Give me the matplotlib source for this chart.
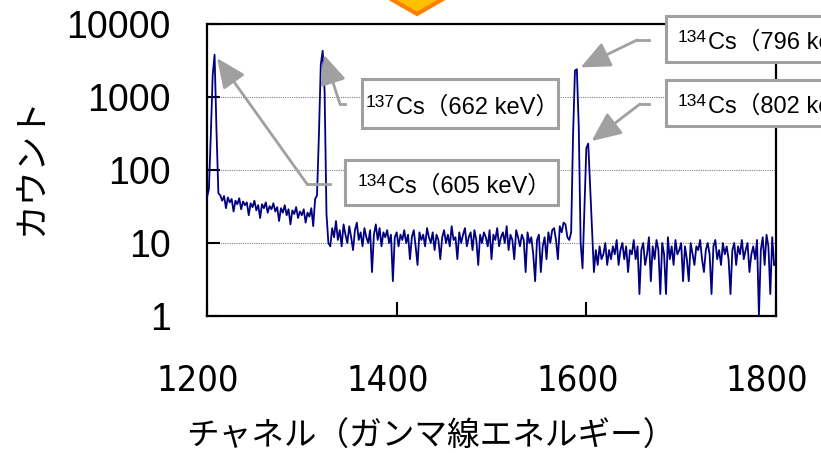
import numpy as np
import matplotlib.pyplot as plt
from matplotlib import font_manager
from matplotlib.patches import Rectangle, Polygon
from matplotlib.lines import Line2D
from matplotlib.ticker import FixedLocator, FixedFormatter, NullLocator
import matplotlib.transforms as mtransforms

W, H = 821, 453

# canal (paso de 2 canales) y cuentas
channels = np.arange(1200, 1800, 2)
counts = [
    42, 55, 300, 2000, 3800, 350, 48,
    45, 38, 44, 30, 42, 36, 40, 27, 38, 34, 41, 29, 37, 33,
    36, 24, 35, 31, 38, 28, 33, 22, 34, 30, 36, 26, 32, 29, 35,
    27, 31, 20, 30, 26, 33, 24, 29, 18, 28, 25, 31, 22, 27, 24,
    29, 19, 26, 23, 30, 17, 40, 45,
    300, 2800, 4300, 1200, 25, 10,
    9, 16, 12, 20, 11, 15, 9, 18, 13, 10,
    17, 12, 8, 15, 19, 11, 14, 9, 16, 12,
    10, 15, 4, 13, 18, 11, 16, 9, 14, 12,
    15, 10, 13, 3, 12, 14, 9, 13, 11, 15,
    10, 13, 6, 12, 15, 9, 5, 14, 11, 13,
    9, 16, 12, 10, 14, 8, 13, 11, 6, 12,
    15, 10, 13, 9, 17, 11, 12, 6, 14, 10,
    13, 16, 9, 12, 14, 8, 15, 11, 5, 13,
    10, 14, 12, 9, 15, 6, 13, 11, 16, 9,
    12, 14, 10, 17, 8, 13, 11, 6, 15, 12,
    9, 13, 11, 4, 14, 10, 12, 7, 3, 11,
    13, 4, 9, 12, 6, 14, 10, 15, 16, 11,
    6, 17, 14, 19, 18, 12, 11,
    14, 300, 2300, 2400, 400, 10, 4.5, 30, 200, 230, 60, 16, 4,
    8, 5, 9, 6, 7, 10, 5, 8, 6, 9,
    7, 11, 5, 8, 10, 6, 9, 4, 8, 7,
    11, 6, 9, 2, 8, 10, 5, 7, 12, 3,
    9, 6, 11, 8, 2, 10, 7, 2, 12, 6,
    9, 5, 11, 7, 8, 10, 3, 9, 6, 3,
    10, 7, 5, 9, 8, 11, 6, 4, 8, 10,
    7, 2, 9, 11, 6, 8, 5, 10, 7, 9,
    6, 2, 8, 10, 5, 9, 7, 11, 6, 8,
    10, 4, 7, 9, 6, 11, 1, 8, 12, 5,
    13, 9, 2, 12, 5,
]

x_ticks = [1200, 1400, 1600, 1800]
x_tick_labels = ['1200', '1400', '1600', '1800']
y_ticks = [1, 10, 100, 1000, 10000]
y_tick_labels = ['1', '10', '100', '1000', '10000']

# picos: isotopo, energia y canal al que apunta la flecha
peak_isotopes = ['134', '137', '134', '134']
peak_energies = ['605', '662', '796', '802']
peak_channels = [1208, 1322, 1590, 1602]

CJK = ['Noto Sans CJK JP', 'DejaVu Sans']
LAT = ['Liberation Sans', 'Noto Sans CJK JP', 'DejaVu Sans']


def px(x, y):
    """pixeles (desde arriba) -> fraccion de figura"""
    return x / W, 1 - y / H


def narrow_font():
    # fuente estrecha para los numeros del eje x, si hay alguna
    try:
        font_manager.findfont('Liberation Sans Narrow', fallback_to_default=False)
        return dict(family='Liberation Sans Narrow', size=27)
    except Exception:
        pass
    f = font_manager.findfont(font_manager.FontProperties(family='DejaVu Sans', stretch='condensed'))
    if 'Condensed' in f:
        return dict(family='DejaVu Sans', stretch='condensed', size=26)
    return dict(family='Liberation Sans', size=24)


fig = plt.figure(figsize=(W / 100, H / 100), dpi=100)
ax = fig.add_axes([207 / W, 1 - 316 / H, 569 / W, 292 / H])

ax.plot(channels, counts, color='#000080', lw=1.3, zorder=3)

ax.set_yscale('log')
ax.set_ylim(1, 10000)
ax.set_xlim(1200, 1800)

ax.yaxis.set_major_locator(FixedLocator(y_ticks))
ax.yaxis.set_major_formatter(FixedFormatter(y_tick_labels))
ax.yaxis.set_minor_locator(NullLocator())
ax.xaxis.set_major_locator(FixedLocator(x_ticks))
ax.xaxis.set_major_formatter(FixedFormatter(x_tick_labels))

nf = narrow_font()
ax.tick_params(axis='y', direction='in', length=9.5, width=1.5, pad=26, labelsize=27)
ax.tick_params(axis='x', direction='in', length=10, width=1.5, pad=34, labelsize=nf['size'])
for lab in ax.get_yticklabels():
    lab.set_family(['Liberation Sans'])
offset = mtransforms.ScaledTranslation(-9 / 100, 0, fig.dpi_scale_trans)
for lab in ax.get_xticklabels():
    lab.set_family(nf['family'])
    if 'stretch' in nf:
        lab.set_stretch(nf['stretch'])
    lab.set_transform(lab.get_transform() + offset)

ax.grid(axis='y', which='major', color='#808080', ls=(0, (1, 1)), lw=0.8)
ax.set_axisbelow(True)
for s in ax.spines.values():
    s.set_linewidth(1.6)
    s.set_color('black')

fig.text(*px(32, 167), 'カウント', rotation=90, ha='center', va='center',
         fontsize=25, family=CJK)
fig.text(*px(431, 437), 'チャネル（ガンマ線エネルギー）', ha='center', va='center',
         fontsize=23.5, family=CJK)

# flecha naranja de arriba
fig.patches.append(Polygon([px(372, -12), px(417, 14), px(462, -12)], closed=True,
                           facecolor='#FFC000', edgecolor='#FF8000', lw=3,
                           transform=fig.transFigure, zorder=5))

# cajas de anotacion (x0, y0, x1, y1), inicio de "Cs" y linea base, en pixeles
boxes = [(345, 160, 558, 205), (362, 79, 558, 128), (666, 16, 900, 62), (666, 80, 900, 126)]
text_pos = [(388, 193), (396, 114), (708, 49), (708, 113)]
elbows = [(330, 307, 184), (345, 340, 104), (649, 637, 40), (649, 640, 104)]
gray = '#A0A0A0'

counts_arr = np.array(counts)
for iso, en, ch, (x0, y0, x1, y1), (tx, ty), (ex0, ex1, ey) in zip(
        peak_isotopes, peak_energies, peak_channels, boxes, text_pos, elbows):
    bx, by = px(x0, y1)
    fig.patches.append(Rectangle((bx, by), (x1 - x0) / W, (y1 - y0) / H,
                                 facecolor='white', edgecolor=gray, lw=2.2,
                                 transform=fig.transFigure, zorder=4))
    fig.text(*px(tx, ty), 'Cs（' + en + ' keV）', ha='left', va='baseline',
             fontsize=17, family=LAT, zorder=6)
    fig.text(*px(tx - 1, ty - 7), iso, ha='right', va='baseline',
             fontsize=12.5, family=LAT, zorder=6)
    fig.lines.append(Line2D([ex0 / W, ex1 / W], [1 - ey / H, 1 - ey / H],
                            color=gray, lw=2.0, transform=fig.transFigure))
    yv = counts_arr[channels == ch][0]
    ax.annotate('', xy=(ch, yv), xycoords='data',
                xytext=(ex1, H - ey), textcoords='figure pixels',
                arrowprops=dict(arrowstyle='-|>,head_length=0.9,head_width=0.4',
                                color=gray, lw=2.0, shrinkA=0, shrinkB=3,
                                mutation_scale=20),
                zorder=5)

fig.savefig('out.png', dpi=100)
